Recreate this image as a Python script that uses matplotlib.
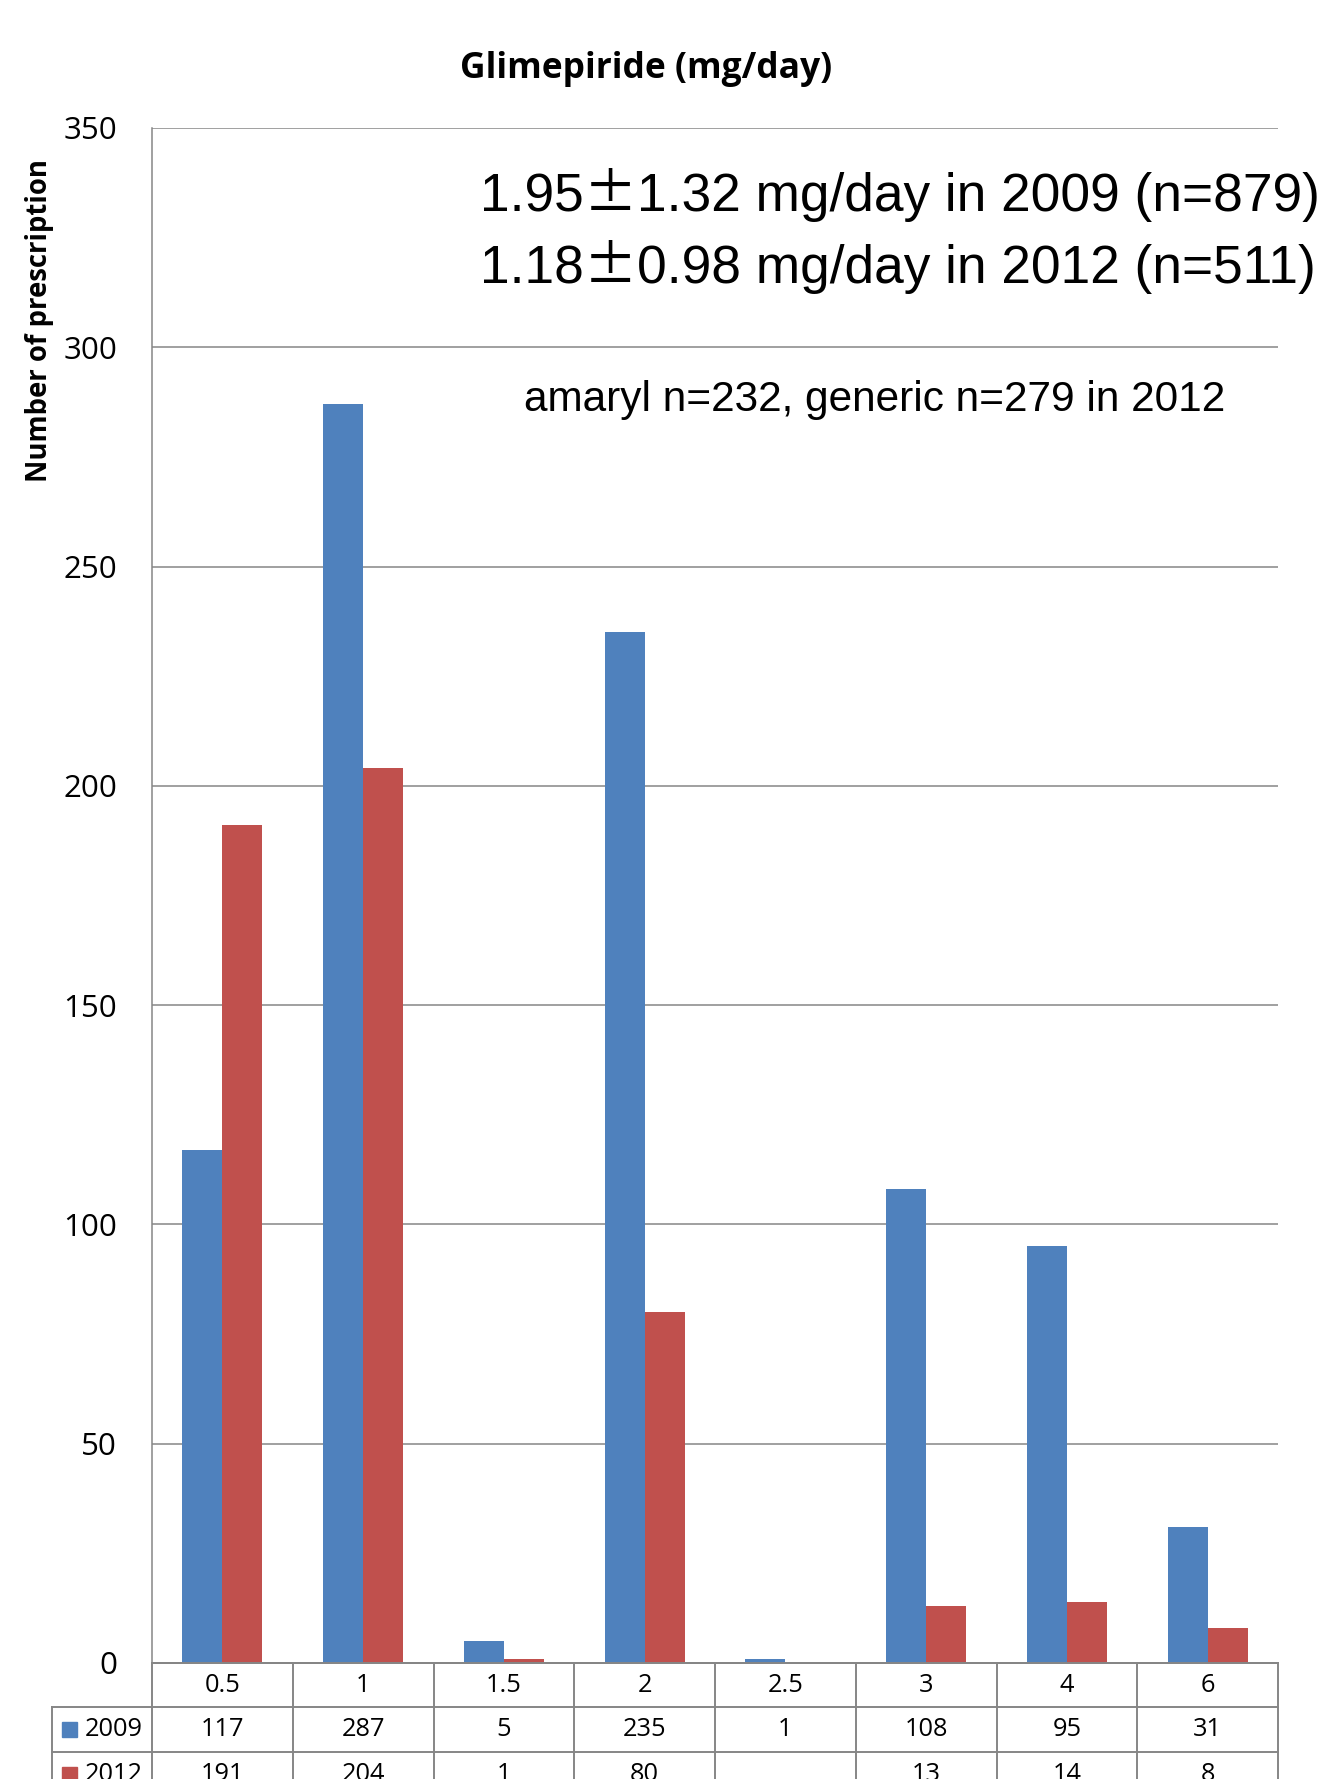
import numpy as np
import matplotlib
matplotlib.use("Agg")
import matplotlib.pyplot as plt
from matplotlib.lines import Line2D
from matplotlib.patches import Rectangle
from matplotlib.transforms import blended_transform_factory

# data
doses = ["0.5", "1", "1.5", "2", "2.5", "3", "4", "6"]
series_names = ["2009", "2012"]
counts_2009 = [117, 287, 5, 235, 1, 108, 95, 31]
counts_2012 = [191, 204, 1, 80, None, 13, 14, 8]
colors = ["#4F81BD", "#C0504D"]

W, H = 1318, 1779
GRID = "#868686"
CAL = "Open Sans"

def fx(px):
    return px / W

def fy(py):
    return 1 - py / H

fig = plt.figure(figsize=(W / 100, H / 100), dpi=100)
renderer = fig.canvas.get_renderer()
ax_l, ax_r, ax_t, ax_b = 152, 1278, 128, 1663
ax = fig.add_axes([fx(ax_l), fy(ax_b), fx(ax_r - ax_l), fy(ax_t) - fy(ax_b)])

x = np.arange(len(doses))
bw = 0.285
v09 = [np.nan if v is None else v for v in counts_2009]
v12 = [np.nan if v is None else v for v in counts_2012]
ax.bar(x - bw / 2, v09, bw, color=colors[0], zorder=3)
ax.bar(x + bw / 2, v12, bw, color=colors[1], zorder=3)

ax.set_xlim(-0.5, len(doses) - 0.5)
ax.set_ylim(0, 350)
ax.set_yticks(range(0, 351, 50))
ax.set_xticks([])
ax.yaxis.grid(True, color=GRID, linewidth=1.1, zorder=0)
for s in ["top", "right"]:
    ax.spines[s].set_visible(False)
for s in ["left", "bottom"]:
    ax.spines[s].set_color(GRID)
    ax.spines[s].set_linewidth(1.1)
ax.tick_params(axis="y", length=0, pad=25, labelsize=22.5)
for lb in ax.get_yticklabels():
    lb.set_fontfamily(CAL)

# title and labels
fig.text(fx(646), fy(69), "Glimepiride (mg/day)", family=CAL, weight="bold",
         fontsize=25.5, ha="center", va="center")
fig.text(fx(40), fy(320), "Number of prescription", family=CAL, weight="bold",
         fontsize=19.8, rotation=90, ha="center", va="center")


def text_run(x_px, y_px, pieces, **kw):
    # draw pieces of text one after another on a common baseline
    for s, extra in pieces:
        opts = dict(kw)
        opts.update(extra)
        t = fig.text(fx(x_px), fy(y_px), s, ha="left", va="baseline", **opts)
        x_px += t.get_window_extent(renderer).width


big = dict(family="Liberation Sans", fontsize=38.3)
pm = {"family": "Noto Sans CJK JP"}
text_run(480, 211, [("1.95", {}), ("\u00b1", pm), ("1.32 mg/day in 2009 (n=879)", {})], **big)
text_run(480, 283, [("1.18", {}), ("\u00b1", pm), ("0.98 mg/day in 2012 (n=511)", {})], **big)
fig.text(fx(875), fy(400), "amaryl n=232, generic n=279 in 2012",
         family="Liberation Sans", fontsize=30.5, ha="center", va="center")

# data table under the axis
tr = blended_transform_factory(ax.transData, fig.transFigure)
row_top = [1663, 1707, 1752, 1797]
lw = 1.4
n = len(doses)
fig.add_artist(Line2D([-0.5, n - 0.5], [fy(row_top[0])] * 2, transform=tr, color=GRID, lw=lw))
for yy in row_top[1:3]:
    fig.add_artist(Line2D([fx(52), fx(ax_r)], [fy(yy)] * 2, transform=fig.transFigure,
                          color=GRID, lw=lw))
for i in range(n + 1):
    fig.add_artist(Line2D([i - 0.5, i - 0.5], [fy(row_top[0]), fy(row_top[3])], transform=tr,
                          color=GRID, lw=lw))
fig.add_artist(Line2D([fx(52), fx(52)], [fy(row_top[1]), fy(row_top[3])],
                      transform=fig.transFigure, color=GRID, lw=lw))

for i, d in enumerate(doses):
    fig.text(i, fy(1685), d, transform=tr, family=CAL, fontsize=18.3,
             ha="center", va="center")
rows = [counts_2009, counts_2012]
for r, vals in enumerate(rows):
    yc = (row_top[r + 1] + row_top[r + 2]) / 2
    for i, v in enumerate(vals):
        if v is not None:
            fig.text(i, fy(yc), str(v), transform=tr, family=CAL, fontsize=18.3,
                     ha="center", va="center")
    fig.add_artist(Rectangle((fx(62), fy(yc + 7.5)), fx(15), fy(yc - 7.5) - fy(yc + 7.5),
                             transform=fig.transFigure, color=colors[r]))
    fig.text(fx(85), fy(yc), series_names[r], family=CAL, fontsize=18.3,
             ha="left", va="center")

fig.savefig("out.png", dpi=100)
